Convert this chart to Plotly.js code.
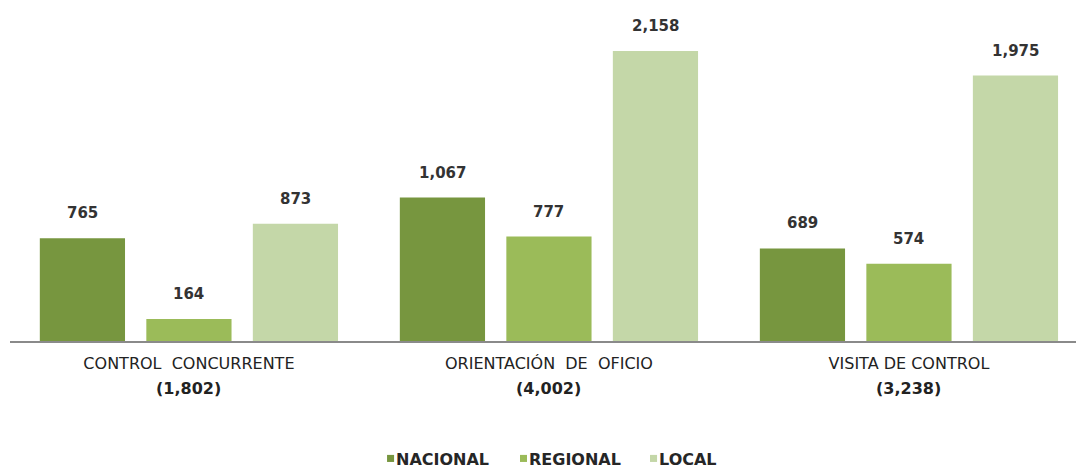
<!DOCTYPE html>
<html>
<head>
<meta charset="utf-8">
<script src="https://cdn.plot.ly/plotly-3.0.1.min.js"></script>
<style>html,body{margin:0;padding:0;background:#fff;}#chart{width:1076px;height:471px;}</style>
</head>
<body>
<div id="chart"></div>
<script>
var categories = ["CONTROL\u00a0\u00a0CONCURRENTE", "ORIENTACIÓN\u00a0\u00a0DE\u00a0\u00a0OFICIO", "VISITA DE CONTROL"];
var seriesNames = ["NACIONAL", "REGIONAL", "LOCAL"];
var nacional = [765, 1067, 689];
var regional = [164, 777, 574];
var local = [873, 2158, 1975];
var totals = [1802, 4002, 3238];
var colors = ["#77963f", "#9bbb59", "#c4d7a8"];

var xs = [0, 1, 2];
var seriesValues = [nacional, regional, local];
var fmt = function (v) { return v.toLocaleString("en-US"); };

var bargap = 0.1125;
var slotPx = 360 * (1 - bargap) / 3;

var traces = [];
var annotations = [];
var shapes = [];
seriesValues.forEach(function (vals, i) {
  traces.push({
    type: "bar",
    x: xs,
    y: vals,
    name: seriesNames[i],
    marker: {color: colors[i]},
    showlegend: false,
    hoverinfo: "none"
  });
  vals.forEach(function (v, k) {
    annotations.push({
      x: xs[k], y: v, xref: "x", yref: "y",
      text: fmt(v), showarrow: false,
      xshift: (i - 1) * slotPx, yshift: 25,
      xanchor: "center", yanchor: "middle",
      font: {family: "DejaVu Sans", size: 15, color: "#333333", weight: "bold"}
    });
  });
});

// totals line under category labels
totals.forEach(function (t, k) {
  annotations.push({
    x: xs[k], y: 0, xref: "x", yref: "y",
    text: "<b>(" + fmt(t) + ")</b>", showarrow: false,
    yshift: -47, xanchor: "center", yanchor: "middle",
    font: {family: "DejaVu Sans", size: 16, color: "#222222"}
  });
});

// legend (small square keys + labels)
var legendKeyX = [0.3537, 0.4784, 0.6004];
var keyW = 0.0066;
seriesNames.forEach(function (n, i) {
  shapes.push({
    type: "rect", xref: "paper", yref: "paper",
    x0: legendKeyX[i], x1: legendKeyX[i] + keyW, y0: -0.339, y1: -0.360,
    fillcolor: colors[i], line: {width: 0}
  });
  annotations.push({
    x: legendKeyX[i] + keyW, y: -0.352, xref: "paper", yref: "paper",
    xanchor: "left", yanchor: "middle", showarrow: false,
    text: "<b>" + n + "</b>",
    font: {family: "DejaVu Sans", size: 16, color: "#262626"}
  });
});

var layout = {
  width: 1076, height: 471,
  margin: {l: 10, r: 0, t: 5, b: 130},
  paper_bgcolor: "#ffffff", plot_bgcolor: "#ffffff",
  barmode: "group", bargap: bargap, bargroupgap: 0.2,
  font: {family: "DejaVu Sans", color: "#333333"},
  xaxis: {
    range: [-0.497, 2.464],
    tickmode: "array", tickvals: xs, ticktext: categories,
    tickfont: {family: "DejaVu Sans", size: 16, color: "#222222"},
    ticklabelstandoff: 7,
    showline: true, linecolor: "#8a8a8a", linewidth: 2,
    ticks: "", showgrid: false, zeroline: false, fixedrange: true
  },
  yaxis: {range: [0, 2500], visible: false, showgrid: false, zeroline: false, fixedrange: true},
  showlegend: false,
  shapes: shapes,
  annotations: annotations
};

Plotly.newPlot("chart", traces, layout, {displayModeBar: false, staticPlot: true});
</script>
</body>
</html>
